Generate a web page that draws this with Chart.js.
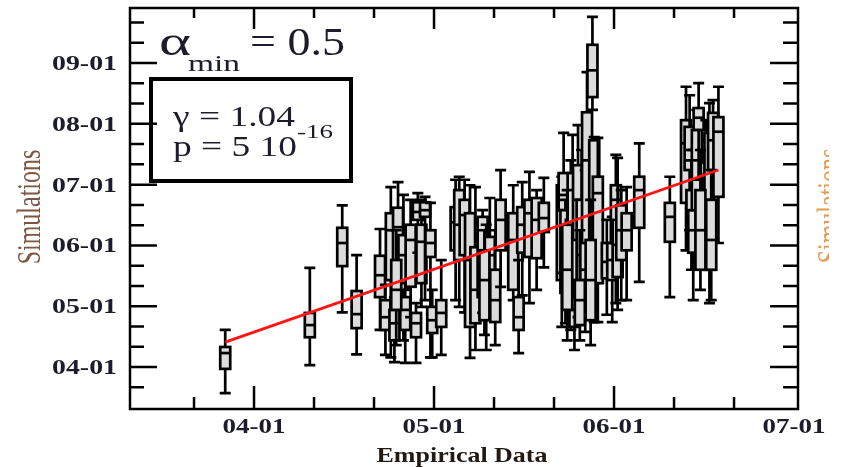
<!DOCTYPE html>
<html>
<head>
<meta charset="utf-8">
<script src="https://cdn.jsdelivr.net/npm/chart.js"></script>
<style>
  html, body { margin: 0; padding: 0; background: #fff; }
</style>
</head>
<body>
<canvas id="boxChart" width="844" height="467"></canvas>
<script>
// one box per entry: empirical value on x, simulated quantiles on y
const empirical = [3.84, 4.31, 4.49, 4.57, 4.70, 4.73, 4.76, 4.78, 4.80, 4.83,
  4.84, 4.87, 4.90, 4.91, 4.93, 4.95, 4.98, 4.99, 5.04, 5.12,
  5.14, 5.17, 5.20, 5.23, 5.27, 5.29, 5.31, 5.34, 5.37, 5.44,
  5.47, 5.49, 5.53, 5.57, 5.61, 5.71, 5.72, 5.73, 5.76, 5.77,
  5.78, 5.80, 5.82, 5.84, 5.85, 5.88, 5.89, 5.91, 5.96, 5.99,
  6.01, 6.02, 6.04, 6.07, 6.14, 6.31, 6.40, 6.42, 6.43, 6.44,
  6.46, 6.47, 6.49, 6.51, 6.52, 6.53, 6.55, 6.58,
  5.74, 5.87, 5.81, 6.48, 6.54, 5.28, 4.79];
const whiskerHigh = [4.61, 5.63, 6.66, 5.84, 6.27, 5.35, 6.96, 5.15, 7.04, 6.83,
  5.38, 6.75, 5.05, 6.86, 6.75, 6.80, 6.70, 5.27, 5.76, 7.08,
  7.13, 7.08, 6.99, 6.96, 6.58, 6.34, 6.78, 6.25, 7.24, 6.99,
  5.76, 7.04, 7.21, 6.91, 7.11, 7.13, 7.85, 6.75, 7.40, 7.82,
  5.43, 7.98, 7.57, 7.24, 8.85, 9.76, 7.78, 7.77, 6.42, 6.47,
  7.49, 7.44, 6.91, 6.96, 7.68, 7.13, 8.61, 8.47, 7.40, 7.57,
  8.23, 8.67, 7.57, 8.06, 7.73, 8.34, 8.39, 8.61,
  6.91, 6.75, 6.25, 7.57, 7.24, 6.25, 6.25];
const q3 = [4.33, 4.89, 6.29, 5.25, 5.83, 5.10, 6.53, 4.94, 6.62, 6.17,
  5.15, 6.34, 4.89, 6.71, 6.34, 6.71, 6.25, 4.99, 5.10, 6.63,
  6.91, 6.75, 6.53, 5.97, 6.47, 5.76, 6.14, 5.60, 6.75, 6.53,
  5.15, 6.63, 6.75, 6.78, 6.70, 6.99, 7.19, 6.58, 6.42, 7.19,
  5.15, 7.32, 6.75, 6.09, 8.19, 9.30, 7.73, 7.13, 6.04, 6.04,
  6.99, 6.42, 6.66, 6.53, 7.13, 6.70, 8.06, 7.95, 6.91, 6.58,
  7.90, 8.26, 6.58, 7.36, 7.16, 7.85, 8.18, 8.11,
  6.34, 6.09, 5.43, 6.91, 6.75, 5.92, 5.76];
const median = [4.23, 4.69, 6.04, 4.87, 5.51, 4.82, 6.25, 4.72, 6.30, 5.84,
  4.94, 6.09, 4.72, 6.55, 6.06, 6.58, 6.04, 4.77, 4.89, 6.38,
  6.34, 6.50, 5.76, 5.27, 5.92, 5.35, 5.84, 5.10, 6.42, 6.09,
  4.82, 6.34, 6.53, 6.42, 6.45, 6.58, 6.83, 5.92, 5.76, 6.25,
  4.94, 6.75, 5.84, 5.60, 7.40, 8.88, 6.42, 6.86, 5.73, 5.76,
  6.75, 6.01, 6.25, 6.25, 6.91, 6.47, 7.68, 7.57, 6.50, 6.25,
  7.40, 8.10, 6.17, 7.08, 6.75, 6.75, 7.73, 7.87,
  5.60, 5.43, 5.10, 6.25, 6.09, 5.43, 5.27];
const q1 = [3.97, 4.49, 5.66, 4.64, 5.15, 4.61, 5.43, 4.44, 5.55, 5.27,
  4.61, 5.32, 4.49, 6.42, 5.38, 6.47, 5.81, 4.56, 4.66, 5.92,
  5.76, 5.84, 4.66, 4.72, 5.15, 4.94, 5.55, 4.74, 5.92, 5.27,
  4.61, 5.88, 5.81, 5.79, 6.22, 5.43, 6.58, 5.22, 5.05, 5.15,
  4.66, 6.09, 5.27, 5.15, 6.04, 8.44, 5.38, 5.38, 5.46, 5.43,
  6.04, 5.48, 5.76, 5.92, 6.29, 6.06, 6.70, 7.24, 6.09, 5.88,
  6.58, 7.90, 5.81, 6.70, 6.25, 5.60, 7.24, 6.80,
  4.94, 4.77, 4.69, 5.60, 5.60, 4.77, 4.94];
const whiskerLow = [3.57, 4.03, 4.90, 4.21, 4.61, 4.20, 4.16, 4.08, 5.05, 4.44,
  4.07, 4.82, 4.07, 5.88, 4.99, 5.10, 4.16, 4.16, 4.20, 5.10,
  4.99, 4.90, 4.15, 4.28, 4.89, 4.28, 4.86, 4.36, 5.32, 5.10,
  4.23, 5.18, 5.05, 5.27, 5.64, 4.66, 5.55, 4.72, 4.61, 5.05,
  4.28, 4.82, 4.77, 4.58, 5.43, 8.23, 4.74, 4.74, 4.86, 4.74,
  5.05, 4.94, 5.10, 5.10, 5.40, 5.15, 5.92, 6.25, 5.60, 5.10,
  5.76, 7.08, 5.71, 6.09, 5.60, 5.05, 6.09, 6.04,
  4.44, 4.36, 4.44, 5.27, 5.10, 4.53, 4.36];

// fitted line
const fitX = [3.84, 6.58];
const fitY = [4.41, 7.24];

const xTicks = [4, 5, 6, 7];
const xTickLabels = ['04-01', '05-01', '06-01', '07-01'];
const yTicks = [4, 5, 6, 7, 8, 9];
const yTickLabels = ['04-01', '05-01', '06-01', '07-01', '08-01', '09-01'];

const SERIF = '"Liberation Serif", "Times New Roman", "DejaVu Serif", serif';

// text squeezed/stretched to a given width, like the original scan
function wideText(ctx, str, x, y, font, width, align, color) {
  ctx.save();
  ctx.font = font + ' ' + SERIF;
  ctx.fillStyle = color || '#1c1c2c';
  ctx.textBaseline = 'alphabetic';
  const w = ctx.measureText(str).width;
  ctx.translate(x, y);
  ctx.scale(width / w, 1);
  ctx.textAlign = align || 'left';
  ctx.fillText(str, 0, 0);
  ctx.restore();
}

function upText(ctx, str, x, y, font, stretch, color) {
  ctx.save();
  ctx.font = font + ' ' + SERIF;
  ctx.fillStyle = color;
  ctx.translate(x, y);
  ctx.scale(stretch, 1);
  ctx.rotate(-Math.PI / 2);
  ctx.textAlign = 'center';
  ctx.textBaseline = 'alphabetic';
  ctx.fillText(str, 0, 0);
  ctx.restore();
}

const boxPlugin = {
  id: 'boxes',
  beforeDatasetsDraw(chart) {
    const ctx = chart.ctx, xs = chart.scales.x, ys = chart.scales.y;
    ctx.save();
    ctx.lineWidth = 2.7;
    ctx.strokeStyle = '#000';
    for (let i = 0; i < empirical.length; i++) {
      const px = xs.getPixelForValue(empirical[i]);
      const hi = ys.getPixelForValue(whiskerHigh[i]);
      const top = ys.getPixelForValue(q3[i]);
      const mid = ys.getPixelForValue(median[i]);
      const bot = ys.getPixelForValue(q1[i]);
      const lo = ys.getPixelForValue(whiskerLow[i]);
      ctx.beginPath();
      ctx.moveTo(px, hi); ctx.lineTo(px, top);
      ctx.moveTo(px, bot); ctx.lineTo(px, lo);
      ctx.moveTo(px - 5.5, hi); ctx.lineTo(px + 5.5, hi);
      ctx.moveTo(px - 5.5, lo); ctx.lineTo(px + 5.5, lo);
      ctx.stroke();
      ctx.fillStyle = '#dcdcdc';
      ctx.fillRect(px - 5, top, 10, bot - top);
      ctx.strokeRect(px - 5, top, 10, bot - top);
      ctx.beginPath();
      ctx.moveTo(px - 5, mid); ctx.lineTo(px + 5, mid);
      ctx.stroke();
    }
    ctx.restore();
  }
};

const framePlugin = {
  id: 'frame',
  afterDraw(chart) {
    const ctx = chart.ctx, a = chart.chartArea;
    const xs = chart.scales.x, ys = chart.scales.y;
    ctx.save();
    ctx.strokeStyle = '#000';
    ctx.lineWidth = 2.5;
    ctx.strokeRect(a.left, a.top, a.right - a.left, a.bottom - a.top);

    // inward ticks, minor every third
    ctx.beginPath();
    for (let k = Math.ceil(xs.min * 3); k <= Math.floor(xs.max * 3); k++) {
      const px = xs.getPixelForValue(k / 3);
      if (px - a.left < 6 || a.right - px < 6) continue;
      const major = k % 3 === 0;
      ctx.moveTo(px, a.bottom); ctx.lineTo(px, a.bottom - (major ? 23 : 12));
      ctx.moveTo(px, a.top); ctx.lineTo(px, a.top + (major ? 21 : 10));
    }
    for (let k = Math.ceil(ys.min * 3); k <= Math.floor(ys.max * 3); k++) {
      const py = ys.getPixelForValue(k / 3);
      if (py - a.top < 6 || a.bottom - py < 6) continue;
      const major = k % 3 === 0;
      ctx.moveTo(a.left, py); ctx.lineTo(a.left + (major ? 27 : 14), py);
      ctx.moveTo(a.right, py); ctx.lineTo(a.right - (major ? 28 : 15), py);
    }
    ctx.stroke();

    // tick labels
    yTicks.forEach((v, i) => {
      wideText(ctx, yTickLabels[i], a.left - 13, ys.getPixelForValue(v) + 7,
        'bold 20px', 65, 'right');
    });
    xTicks.forEach((v, i) => {
      wideText(ctx, xTickLabels[i], xs.getPixelForValue(v), 433,
        'bold 20px', 63, 'center');
    });

    // axis titles
    wideText(ctx, 'Empirical Data', 462, 462, 'bold 21px', 171, 'center', '#241a14');
    upText(ctx, 'Simulations', 40, 207, '24px', 1.4, '#7d5640');
    ctx.save();
    ctx.beginPath();
    ctx.rect(800, 0, 29, 467);
    ctx.clip();
    upText(ctx, 'Simulations', 840, 206, '24px', 1.4, '#e39a52');
    ctx.restore();

    // annotations
    wideText(ctx, '\u03b1', 159, 55, '42px', 32, 'left');
    wideText(ctx, 'min', 188, 71, '24px', 52, 'left');
    wideText(ctx, '= 0.5', 250, 55, '40px', 95, 'left');
    ctx.lineWidth = 4;
    ctx.strokeRect(151, 79, 200, 102);
    wideText(ctx, '\u03b3 = 1.04', 173, 126, '29px', 122, 'left');
    wideText(ctx, 'p = 5 10', 173, 156, '29px', 124, 'left');
    wideText(ctx, '-16', 297, 138, '18px', 36, 'left');
    ctx.restore();
  }
};

function drawChart() {
  new Chart(document.getElementById('boxChart').getContext('2d'), {
    type: 'scatter',
    data: {
      datasets: [{
        type: 'line',
        data: fitX.map((x, i) => ({ x: x, y: fitY[i] })),
        borderColor: '#ff1414',
        borderWidth: 2.8,
        pointRadius: 0,
        fill: false
      }]
    },
    options: {
      responsive: false,
      animation: false,
      layout: { padding: { left: 130, top: 8, right: 46, bottom: 58 } },
      plugins: { legend: { display: false }, tooltip: { enabled: false } },
      scales: {
        x: { type: 'linear', min: 3.311, max: 7.022, display: false },
        y: { type: 'linear', min: 3.31, max: 9.905, display: false }
      }
    },
    plugins: [boxPlugin, framePlugin]
  });
}

Promise.all([
  document.fonts.load('20px "Liberation Serif"'),
  document.fonts.load('bold 20px "Liberation Serif"')
]).then(drawChart, drawChart);
</script>
</body>
</html>
